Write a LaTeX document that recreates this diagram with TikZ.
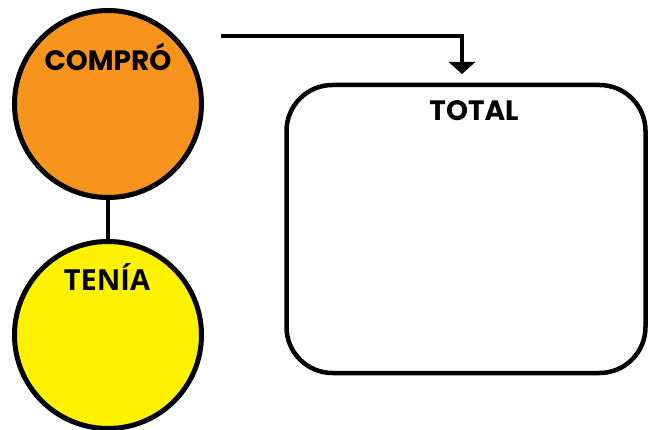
\documentclass[tikz,border=0pt]{standalone}
\usepackage{fontspec}
\setmainfont{Poppins}
\newfontfamily\opensans{Open Sans}
\usepackage{tikz}
\usetikzlibrary{positioning, arrows.meta}

\definecolor{comproOrange}{HTML}{F7941D}
\definecolor{teniaYellow}{HTML}{FFF200}

\tikzset{
	bubble/.style={circle, draw, line width=5pt, minimum size=187pt, inner sep=0pt},
	title/.style={font=\fontsize{28}{32}\selectfont\bfseries, inner sep=0pt}
}

\begin{document}
\begin{tikzpicture}[x=1pt, y=-1pt, line width=4.5pt]
		\useasboundingbox (0,0) rectangle (650,430);
		\node[bubble, fill=comproOrange] (compro) at (108,104) {};
		\node[bubble, fill=teniaYellow] (tenia) at (108,335) {};
		\node[draw, rounded corners=46pt, minimum width=359pt, minimum height=288pt] (total) at (466,229) {};
		
		\node[title] (comproText) at (108,57) {COMPRÓ};
		\node[title, font=\opensans\fontsize{29}{32}\selectfont\bfseries] (teniaText) at (107,277) {TENÍA};
		\node[title] (totalText) at (474,111) {TOTAL};
		
		\coordinate (arrowStart) at (221,36);
		\coordinate (arrowEnd) at (462,74);
		
		\draw (compro) -- (tenia);
		\draw[-{Triangle[width=26pt, length=12pt]}] (arrowStart) -| (arrowEnd);
	\end{tikzpicture}
\end{document}
